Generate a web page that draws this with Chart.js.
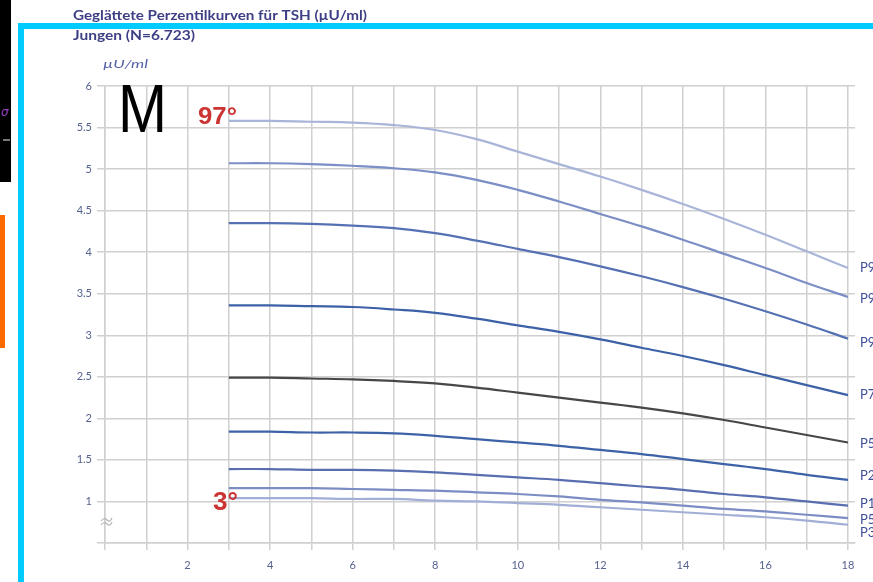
<!DOCTYPE html>
<html><head><meta charset="utf-8">
<script src="https://cdn.jsdelivr.net/npm/chart.js@4/dist/chart.umd.min.js"></script>
<style>html,body{margin:0;padding:0;background:#fff;overflow:hidden}canvas{display:block}</style>
</head><body>
<canvas id="c" width="873" height="582"></canvas>
<script>
// ---- data ----
const ages = [3,4,5,6,7,8,9,10,11,12,13,14,15,16,17,18];
const p97 = [5.58,5.58,5.57,5.56,5.53,5.47,5.36,5.21,5.06,4.91,4.75,4.58,4.40,4.21,4.01,3.81];
const p95 = [5.07,5.07,5.06,5.04,5.01,4.96,4.87,4.75,4.61,4.46,4.31,4.15,3.98,3.81,3.63,3.46];
const p90 = [4.35,4.35,4.34,4.32,4.29,4.23,4.14,4.04,3.94,3.83,3.71,3.58,3.44,3.29,3.13,2.96];
const p75 = [3.36,3.36,3.35,3.34,3.31,3.27,3.20,3.12,3.04,2.95,2.85,2.75,2.64,2.52,2.40,2.28];
const p50 = [2.49,2.49,2.48,2.47,2.45,2.42,2.37,2.31,2.25,2.19,2.13,2.06,1.98,1.89,1.80,1.71];
const p25 = [1.84,1.84,1.83,1.83,1.82,1.79,1.75,1.71,1.67,1.62,1.57,1.51,1.45,1.39,1.32,1.26];
const p10 = [1.39,1.39,1.38,1.38,1.37,1.35,1.32,1.29,1.26,1.22,1.18,1.14,1.09,1.05,1.00,0.95];
const p5  = [1.16,1.16,1.16,1.15,1.14,1.13,1.11,1.09,1.06,1.02,0.99,0.95,0.91,0.88,0.84,0.80];
const p3  = [1.04,1.04,1.04,1.03,1.03,1.01,1.00,0.98,0.96,0.93,0.90,0.87,0.84,0.81,0.77,0.72];
const seriesNames = ['P97','P95','P90','P75','P50','P25','P10','P5','P3'];
const seriesValues = [p97,p95,p90,p75,p50,p25,p10,p5,p3];
const xTickLabels = [2,4,6,8,10,12,14,16,18];
const titleText = 'Geglättete Perzentilkurven für TSH (µU/ml)';
const subtitleText = 'Jungen (N=6.723)';
const unitText = 'µU/ml';

// ---- styles ----
const lineColors = ['#a9b5d8','#7b8ec5','#5671b3','#3c61a7','#474747','#3d62a7','#586eb0','#7c8dc4','#a1aed6'];
const labelNudge = [0,2,4,0,1,-4,-2,2,8];
const gridColor = '#d0d0d0';
const tickColor = '#56628f';

const datasets = seriesValues.map((vals,i)=>({
  label: seriesNames[i],
  data: ages.map((a,j)=>({x:a,y:vals[j]})),
  borderColor: lineColors[i],
  borderWidth: 2.2,
  pointRadius: 0,
  fill: false,
  tension: 0.4
}));

function fitText(ctx, text, x, y, font, color, w){
  ctx.save();
  ctx.font = font; ctx.fillStyle = color; ctx.textBaseline='alphabetic'; ctx.textAlign='left';
  const m = ctx.measureText(text).width;
  ctx.translate(x,y); ctx.scale(w/m,1);
  ctx.fillText(text,0,0);
  ctx.restore();
}

const decor = {
  id:'decor',
  afterDraw(chart){
    const ctx = chart.ctx;
    ctx.save();
    // cyan frame
    ctx.fillStyle = '#00cbff';
    ctx.fillRect(18,23,6,559);
    ctx.fillRect(18,23,855,6);
    // black box
    ctx.fillStyle = '#000';
    ctx.fillRect(0,0,11,182);
    ctx.fillStyle = '#9a40c0';
    ctx.font = 'italic 12px "DejaVu Sans"';
    ctx.fillText('σ',1,116);
    ctx.fillStyle = '#777';
    ctx.fillRect(3,139,7,2);
    // orange box
    ctx.fillStyle = '#ff6a00';
    ctx.fillRect(0,215,5,133);
    // titles
    fitText(ctx,titleText,73,19.5,'bold 13px Lato','#3d3f85',294);
    fitText(ctx,subtitleText,73,40,'bold 13px Lato','#3d3f85',122);
    fitText(ctx,unitText,103,68,'italic 12px Lato','#5560a5',45);
    // big letters
    fitText(ctx,'M',118,132,'68px "Liberation Sans"','#000',49);
    fitText(ctx,'97°',198,124,'bold 24px "Liberation Sans"','#cc3333',39);
    fitText(ctx,'3°',213,510,'bold 26px "Liberation Sans"','#cc3333',25);
    // axis break mark
    ctx.strokeStyle = '#b5b5b5'; ctx.lineWidth = 1.2;
    for (const dy of [0,4]){
      ctx.beginPath();
      ctx.moveTo(101,521+dy); ctx.quadraticCurveTo(104,517+dy,107,520+dy); ctx.quadraticCurveTo(110,523+dy,112,518+dy);
      ctx.stroke();
    }
    // right-hand percentile labels
    ctx.font = '13px Lato'; ctx.fillStyle = '#3d4f99'; ctx.textBaseline='middle'; ctx.textAlign='left';
    chart.data.datasets.forEach((ds,i)=>{
      const meta = chart.getDatasetMeta(i);
      const pt = meta.data[meta.data.length-1];
      ctx.fillText(seriesNames[i], 860, pt.y + labelNudge[i]);
    });
    ctx.restore();
  }
};

new Chart(document.getElementById('c').getContext('2d'),{
  type:'line',
  data:{datasets},
  options:{
    responsive:false, animation:false, devicePixelRatio:1,
    layout:{padding:{left:0,top:86,right:18,bottom:0}},
    plugins:{legend:{display:false},tooltip:{enabled:false},title:{display:false}},
    scales:{
      x:{type:'linear',min:0,max:18.17,
        ticks:{stepSize:1,includeBounds:false,autoSkip:false,maxRotation:0,padding:9,color:tickColor,
          font:{family:'Lato',size:11},
          callback:v=> xTickLabels.includes(v)?String(v):''},
        grid:{color:gridColor,lineWidth:1.5,tickLength:7},
        border:{color:gridColor,width:1.5},
        afterFit:s=>{s.height=39;}},
      y:{min:0.5,max:6,
        ticks:{stepSize:0.5,padding:5,color:tickColor,font:{family:'Lato',size:11},
          callback:v=> v===0.5?'':String(v)},
        grid:{color:gridColor,lineWidth:1.5,tickLength:8},
        border:{color:gridColor,width:1.5},
        afterFit:s=>{s.height=s.height; s.width=105;}}
    }
  },
  plugins:[decor]
});
</script>
</body></html>
